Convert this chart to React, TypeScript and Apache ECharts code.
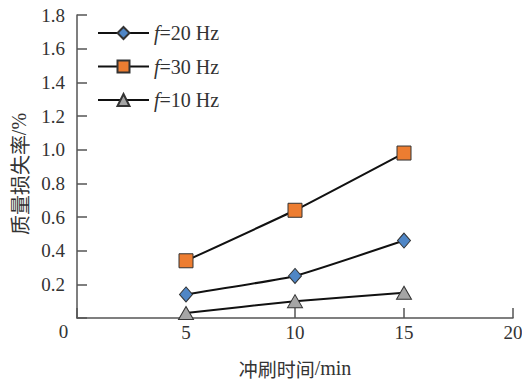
import React, { useEffect, useRef } from "react";
import * as echarts from "echarts";

const times = [5, 10, 15];
const f20 = [0.14, 0.25, 0.46];
const f30 = [0.34, 0.64, 0.98];
const f10 = [0.03, 0.1, 0.15];
const seriesNames = ["f=20 Hz", "f=30 Hz", "f=10 Hz"];

const serif = "Liberation Serif";
const cjk = "Noto Sans CJK SC";
const ink = "#333";

export default function App() {
  const ref = useRef<HTMLDivElement>(null);

  useEffect(() => {
    if (!ref.current) return;
    const chart = echarts.init(ref.current, null, { renderer: "svg" });
    const pairs = (ys: number[]) => times.map((t, i) => [t, ys[i]]);
    const lineStyle = { color: "#111", width: 2 };
    const mk = (name: string, ys: number[], symbol: string, size: any, color: string) => ({
      name,
      type: "line",
      data: pairs(ys),
      symbol,
      symbolSize: size,
      smooth: 0.12,
      lineStyle,
      itemStyle: { color, borderColor: "#333", borderWidth: 1 },
      z: 3,
    });

    chart.setOption({
      animation: false,
      backgroundColor: "#fff",
      grid: { left: 77, right: 9, top: 15, bottom: 63, outerBoundsMode: "none", containLabel: false },
      legend: {
        orient: "vertical",
        left: 97,
        top: 23,
        padding: 0,
        itemWidth: 51,
        itemHeight: 15,
        itemGap: 13.5,
        data: seriesNames,
        formatter: (n: string) => "{i|f}{t|" + n.slice(1) + "}",
        textStyle: {
          fontFamily: serif,
          fontSize: 20,
          lineHeight: 20,
          color: ink,
          rich: {
            i: { fontFamily: serif, fontStyle: "italic", fontSize: 20, lineHeight: 20, color: ink },
            t: { fontFamily: serif, fontSize: 20, lineHeight: 20, color: ink },
          },
        },
      },
      xAxis: {
        type: "value",
        min: 0,
        max: 20,
        interval: 5,
        name: "{c|冲刷时间}{l|/min}",
        nameLocation: "middle",
        nameGap: 40,
        nameTextStyle: {
          color: ink,
          rich: {
            c: { fontFamily: cjk, fontSize: 19, color: ink },
            l: { fontFamily: serif, fontSize: 20, color: ink },
          },
        },
        axisLine: { lineStyle: { color: "#555", width: 1.5 } },
        axisTick: { inside: true, length: 10, lineStyle: { color: "#555", width: 1.5 } },
        axisLabel: {
          margin: 5,
          fontFamily: serif,
          fontSize: 19,
          color: ink,
          formatter: (v: number) => (v === 0 ? "" : String(v)),
        },
        splitLine: { show: false },
      },
      yAxis: {
        type: "value",
        min: 0,
        max: 1.8,
        interval: 0.2,
        axisLine: { show: true, lineStyle: { color: "#555", width: 1.5 } },
        axisTick: { show: true, inside: true, length: 10, lineStyle: { color: "#555", width: 1.5 } },
        axisLabel: {
          margin: 12,
          fontFamily: serif,
          fontSize: 19,
          color: ink,
          formatter: (v: number) => (v === 0 ? "" : v.toFixed(1)),
        },
        splitLine: { show: false },
      },
      graphic: [
        {
          type: "text",
          x: 63.5,
          y: 331,
          style: {
            text: "0",
            fontFamily: serif,
            fontSize: 19,
            fill: ink,
            align: "center",
            verticalAlign: "middle",
          },
        },
        {
          type: "text",
          x: 19,
          y: 174,
          rotation: Math.PI / 2,
          style: {
            text: "{c|质量损失率}{l|/%}",
            align: "center",
            verticalAlign: "middle",
            fill: ink,
            rich: {
              c: { fontFamily: cjk, fontSize: 20, fill: ink },
              l: { fontFamily: serif, fontSize: 20, fill: ink },
            },
          },
        },
      ],
      series: [
        mk(seriesNames[0], f20, "diamond", [13, 15], "#4f86c6"),
        mk(seriesNames[1], f30, "rect", 14, "#ed7d31"),
        mk(seriesNames[2], f10, "triangle", [15, 13], "#a5a5a5"),
      ],
    });
    return () => chart.dispose();
  }, []);

  return <div ref={ref} style={{ width: 522, height: 381, position: "absolute", left: 0, top: 0 }} />;
}
